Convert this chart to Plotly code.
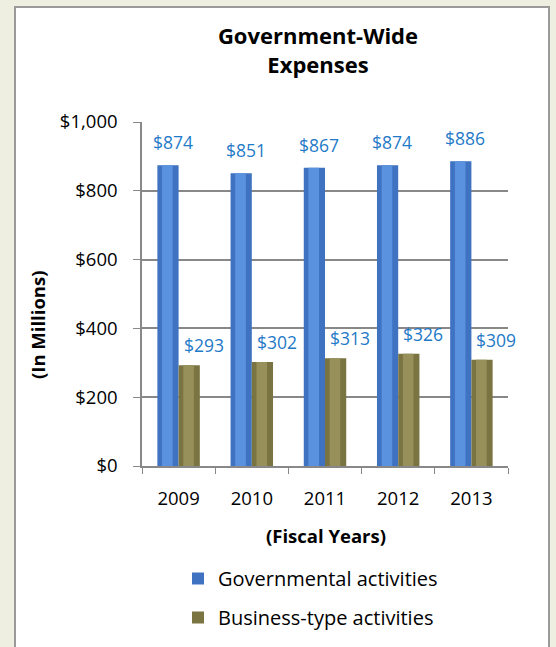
import plotly.graph_objects as go

years = ["2009", "2010", "2011", "2012", "2013"]
governmental = [874, 851, 867, 874, 886]
business = [293, 302, 313, 326, 309]
y_ticks = [0, 200, 400, 600, 800, 1000]
y_tick_labels = ["$0", "$200", "$400", "$600", "$800", "$1,000"]

FONT = "'Open Sans', Lato, sans-serif"
BLUE_EDGE, BLUE_MID = "#3F72C0", "#5B92E0"
GOLD_EDGE, GOLD_MID = "#7A7442", "#98905A"
LABEL = "#1F7AC8"

BAR_W = 0.29
fig = go.Figure()

# main bars (darker edges) with a lighter centre band for a rounded look
fig.add_bar(x=years, y=governmental, name="Governmental activities",
            width=BAR_W, offset=-BAR_W, marker=dict(color=BLUE_EDGE, line_width=0),
            legendgroup="g", hoverinfo="skip")
fig.add_bar(x=years, y=governmental, showlegend=False, width=BAR_W * 0.5,
            offset=-BAR_W * 0.78, marker=dict(color=BLUE_MID, line_width=0),
            legendgroup="g", hoverinfo="skip")
fig.add_bar(x=years, y=business, name="Business-type activities",
            width=BAR_W, offset=0, marker=dict(color=GOLD_EDGE, line_width=0),
            legendgroup="b", hoverinfo="skip")
fig.add_bar(x=years, y=business, showlegend=False, width=BAR_W * 0.5,
            offset=BAR_W * 0.22, marker=dict(color=GOLD_MID, line_width=0),
            legendgroup="b", hoverinfo="skip")

# value labels (x given as category index)
for i, (g, b) in enumerate(zip(governmental, business)):
    fig.add_annotation(x=i, y=g, text=f"${g}", showarrow=False, xshift=-6,
                       yanchor="bottom", yshift=9,
                       font=dict(family=FONT, size=17.5, color=LABEL))
    fig.add_annotation(x=i, y=b, text=f"${b}", showarrow=False, xshift=25,
                       yanchor="bottom", yshift=6,
                       font=dict(family=FONT, size=17.5, color=LABEL))

# axis titles
fig.add_annotation(xref="paper", yref="paper", x=(326 - 142) / 366, y=(466 - 535) / 344,
                   xanchor="center", yanchor="middle",
                   text="<b>(Fiscal Years)</b>", showarrow=False,
                   font=dict(family=FONT, size=18.5, color="#000"))
fig.add_annotation(xref="paper", yref="paper", x=(37 - 142) / 366, y=(466 - 325) / 344,
                   xanchor="center", yanchor="middle",
                   text="<b>(In Millions)</b>", showarrow=False, textangle=-90,
                   font=dict(family=FONT, size=18.5, color="#000"))

# white panel with grey border
fig.add_shape(type="rect", xref="paper", yref="paper", layer="below",
              x0=(15 - 142) / 366, x1=(549 - 142) / 366,
              y0=(466 - 660) / 344, y1=(466 - 7) / 344,
              fillcolor="white", line=dict(color="#9a9a9a", width=2))

fig.update_layout(
    width=556, height=647,
    margin=dict(l=142, r=48, t=122, b=181, autoexpand=False),
    paper_bgcolor="#EFEFE1", plot_bgcolor="rgba(0,0,0,0)",
    barmode="overlay",
    font=dict(family=FONT, size=18.5, color="#000"),
    title=dict(text="<b>Government-Wide<br>Expenses</b>", x=318 / 556, xanchor="center",
               y=1 - 44 / 647, yanchor="top", font=dict(family=FONT, size=22, color="#000")),
    legend=dict(x=(178 - 142) / 366, y=(466 - 559) / 344, xanchor="left", yanchor="top",
                bgcolor="rgba(0,0,0,0)", traceorder="grouped", tracegroupgap=10,
                font=dict(family=FONT, size=20, color="#000"), itemwidth=30),
    showlegend=True,
)
fig.update_xaxes(type="category", tickson="boundaries", ticks="outside", ticklen=6,
                 tickcolor="#888", showline=True, linecolor="#888", linewidth=1.5,
                 showgrid=False, ticklabelstandoff=15, range=[-0.5, 4.5], automargin=False)
fig.update_yaxes(range=[0, 1000], tickvals=y_ticks, ticktext=y_tick_labels,
                 ticks="outside", ticklen=7, tickcolor="#888", showline=True,
                 linecolor="#888", linewidth=1.5, gridcolor="#888", gridwidth=1.5,
                 zeroline=False, ticklabelstandoff=12, automargin=False)

fig.write_html("out.html")
